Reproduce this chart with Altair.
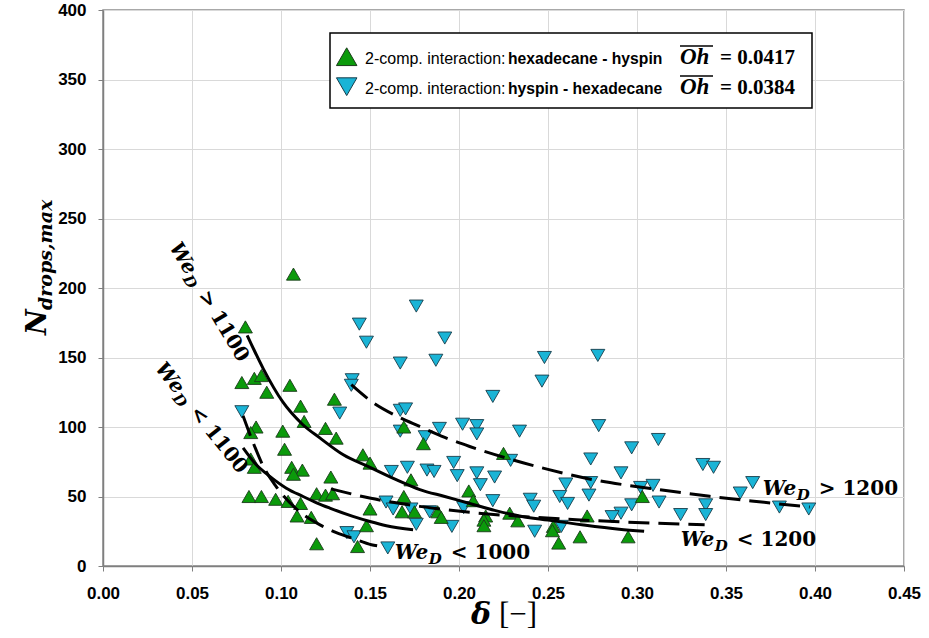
import altair as alt
import pandas as pd

# ---------------- data ----------------
# 2-comp. interaction: hexadecane - hyspin (green, triangle-up)
hh_delta = [0.107, 0.080, 0.078, 0.085, 0.089, 0.092, 0.105, 0.111, 0.113, 0.125,
            0.086, 0.083, 0.101, 0.102, 0.083, 0.085, 0.106, 0.112, 0.107, 0.128,
            0.082, 0.089, 0.097, 0.104, 0.111, 0.120, 0.125, 0.129, 0.109, 0.117,
            0.120, 0.130, 0.131, 0.146, 0.150, 0.169, 0.180, 0.173, 0.2055, 0.208,
            0.169, 0.150, 0.168, 0.175, 0.188, 0.190, 0.215, 0.214, 0.214, 0.148,
            0.143, 0.225, 0.2285, 0.233, 0.253, 0.2525, 0.256, 0.268, 0.272, 0.295,
            0.303]
hh_n = [210, 172, 132, 135, 137, 125, 130, 115, 104, 99,
        100, 96, 97, 84, 77, 71, 71, 69, 66, 64,
        50, 50, 48, 46.5, 45, 52, 51, 52, 36, 35,
        16, 120, 92, 80, 74, 100, 88, 62, 54, 47,
        50, 41, 39, 39, 39, 35, 36, 33, 29, 29,
        14, 81, 38, 32.5, 28.5, 25.4, 16.5, 21, 36, 21,
        50]

# 2-comp. interaction: hyspin - hexadecane (blue, triangle-down)
yh_delta = [0.078, 0.176, 0.144, 0.148, 0.192, 0.167, 0.187, 0.140, 0.1395, 0.133,
            0.219, 0.167, 0.170, 0.167, 0.189, 0.181, 0.202, 0.210, 0.210, 0.234,
            0.162, 0.171, 0.182, 0.186, 0.197, 0.199, 0.210, 0.212, 0.220, 0.219,
            0.159, 0.163, 0.173, 0.1835, 0.2026, 0.176, 0.196, 0.137, 0.141, 0.160,
            0.229, 0.248, 0.278, 0.2466, 0.2785, 0.297, 0.312, 0.274, 0.291, 0.260,
            0.274, 0.302, 0.309, 0.240, 0.242, 0.2566, 0.261, 0.273, 0.297, 0.3124,
            0.291, 0.286, 0.2425, 0.2575, 0.3245, 0.337, 0.3386, 0.3386, 0.343, 0.358,
            0.365, 0.380, 0.3965]
yh_n = [111, 187, 174, 161, 164, 146, 148, 134, 130, 110,
        122, 112, 113, 97, 99, 93, 102, 101, 95, 97,
        68, 71, 69, 68, 74.5, 65, 67, 58.5, 64, 47,
        46, 41, 41, 39, 42, 30, 28.5, 24, 21, 13,
        76, 150, 151.5, 133, 101, 85, 91, 77, 67, 59,
        60, 56.5, 58, 48, 43, 50, 45, 51, 44, 46,
        38, 35.5, 25, 28.5, 37, 73, 44, 37, 71, 52.5,
        60, 42.4, 41]

# trend curves
fit_solid_hi_x = [0.081, 0.090, 0.101, 0.112, 0.122, 0.135, 0.150, 0.165, 0.178, 0.192,
                  0.206, 0.220, 0.234, 0.250, 0.270, 0.290, 0.304]
fit_solid_hi_y = [166, 142, 118, 102, 92, 80, 71, 62, 55, 50,
                  45, 40, 36, 33, 29.5, 26.5, 25]
fit_solid_lo_x = [0.0787, 0.0860, 0.0937, 0.1030, 0.1124, 0.1200, 0.1274, 0.1404, 0.1500, 0.1592, 0.1742]
fit_solid_lo_y = [85, 73, 64.5, 56, 50, 45.5, 41.7, 35.7, 32, 29, 26.1]
fit_dash_hi_x = [0.1395, 0.1508, 0.1640, 0.1779, 0.1920, 0.2060, 0.2266, 0.2500, 0.2753, 0.2950,
                 0.3128, 0.3409, 0.3700, 0.3970]
fit_dash_hi_y = [130.4, 118.4, 108.5, 100.4, 92.5, 86, 77.7, 69.5, 62.1, 58,
                 54.9, 50.1, 46, 42.4]
fit_dash_mid_x = [0.128, 0.1498, 0.1779, 0.2060, 0.2341, 0.2659, 0.3071, 0.3380]
fit_dash_mid_y = [55.5, 48.9, 42.9, 38.6, 35.7, 33.3, 30.9, 29.6]
fit_dash_lo_x = [0.0787, 0.0852, 0.0899, 0.0974, 0.1087, 0.1227, 0.1311, 0.1410, 0.1508, 0.1540]
fit_dash_lo_y = [108, 86, 72, 57, 41, 29, 24, 19.5, 15.3, 14.5]

# curve labels: We_D <rel>
lab_rel = ["> 1100", "< 1100", "< 1000", "> 1200", "< 1200"]
lab_x = [0.0371, 0.0289, 0.1639, 0.3706, 0.3246]
lab_y = [229.4, 141.9, 5.25, 50.8, 14.6]
lab_angle = [59, 51.5, 0, 0, 0]

# legend
leg_plain = ["2-comp. interaction:", "2-comp. interaction:"]
leg_bold = ["hexadecane - hyspin", "hyspin - hexadecane"]
leg_oh = ["= 0.0417", "= 0.0384"]

x_ticks = [0.00, 0.05, 0.10, 0.15, 0.20, 0.25, 0.30, 0.35, 0.40, 0.45]
y_ticks = [0, 50, 100, 150, 200, 250, 300, 350, 400]

# ---------------- build tables ----------------
green = pd.DataFrame({"delta": hh_delta, "n": hh_n})
blue = pd.DataFrame({"delta": yh_delta, "n": yh_n})


def curve(name, xs, ys):
    return pd.DataFrame({"delta": xs, "n": ys, "curve": name})


solid = pd.concat([curve("hi", fit_solid_hi_x, fit_solid_hi_y),
                   curve("lo", fit_solid_lo_x, fit_solid_lo_y)])
dashed = pd.concat([curve("hi", fit_dash_hi_x, fit_dash_hi_y),
                    curve("mid", fit_dash_mid_x, fit_dash_mid_y),
                    curve("lo", fit_dash_lo_x, fit_dash_lo_y)])
labels = pd.DataFrame({"delta": lab_x, "n": lab_y, "rel": lab_rel, "angle": lab_angle})

X = alt.X("delta:Q",
          scale=alt.Scale(domain=[0, 0.45], nice=False, zero=False),
          axis=alt.Axis(values=x_ticks, format=".2f", title=None, grid=True,
                        gridColor="#d9d9d9", domainColor="#7f7f7f", domainWidth=1.5,
                        tickColor="#7f7f7f", tickSize=5, labelFlush=False,
                        labelFont="Liberation Sans", labelFontSize=17,
                        labelFontWeight="bold", labelColor="black", labelPadding=14))
Y = alt.Y("n:Q",
          scale=alt.Scale(domain=[0, 400], nice=False),
          axis=alt.Axis(values=y_ticks, title=None, grid=True,
                        gridColor="#d9d9d9", domainColor="#7f7f7f", domainWidth=1.5,
                        tickColor="#7f7f7f", tickSize=5, labelFlush=False,
                        labelFont="Liberation Sans", labelFontSize=17,
                        labelFontWeight="bold", labelColor="black", labelPadding=12))

blue_pts = alt.Chart(blue).mark_point(shape="triangle-down", filled=True, size=195,
                                      fill="#1ab4d6", stroke="#173c4a", strokeWidth=0.9,
                                      opacity=1).encode(x=X, y=Y)
green_pts = alt.Chart(green).mark_point(shape="triangle-up", filled=True, size=195,
                                        fill="#0b9a0b", stroke="#1b3b1b", strokeWidth=0.9,
                                        opacity=1).encode(x=X, y=Y)

solid_lines = alt.Chart(solid).mark_line(color="black", strokeWidth=3,
                                         interpolate="monotone").encode(
    x=X, y=Y, detail="curve:N", order="delta:Q")
dashed_lines = alt.Chart(dashed).mark_line(color="black", strokeWidth=3,
                                           strokeDash=[21, 9],
                                           interpolate="monotone").encode(
    x=X, y=Y, detail="curve:N", order="delta:Q")

lab_font = "DejaVu Serif"
we_txt = alt.Chart(labels).mark_text(text="We", font=lab_font, fontSize=20, fontWeight="bold",
                                     fontStyle="italic", align="left", baseline="alphabetic",
                                     color="black").encode(
    x=X, y=Y, angle=alt.Angle("angle:Q", scale=None))
d_txt = alt.Chart(labels).mark_text(text="D", font=lab_font, fontSize=15, fontWeight="bold",
                                    fontStyle="italic", align="left", baseline="alphabetic",
                                    dx=34, dy=5, color="black").encode(
    x=X, y=Y, angle=alt.Angle("angle:Q", scale=None))
rel_txt = alt.Chart(labels).mark_text(font=lab_font, fontSize=20, fontWeight="bold",
                                      align="left", baseline="alphabetic",
                                      dx=56, color="black").encode(
    x=X, y=Y, text="rel:N", angle=alt.Angle("angle:Q", scale=None))

# ---------------- axis titles (pixel positions relative to plot area) ----------------
one = pd.DataFrame({"k": [0]})
ytitle_n = alt.Chart(one).mark_text(text="N", font=lab_font, fontSize=28, fontWeight="bold",
                                    fontStyle="italic", align="left", baseline="alphabetic",
                                    angle=270, color="black").encode(
    x=alt.value(-57), y=alt.value(325))
ytitle_sub = alt.Chart(one).mark_text(text="drops,max", font=lab_font, fontSize=19,
                                      fontWeight="bold", fontStyle="italic", align="left",
                                      baseline="alphabetic", angle=270, dx=25, dy=6,
                                      color="black").encode(
    x=alt.value(-57), y=alt.value(325))
xtitle_d = alt.Chart(one).mark_text(text="δ", font=lab_font, fontSize=30, fontWeight="bold",
                                    fontStyle="italic", align="left", baseline="alphabetic",
                                    color="black").encode(
    x=alt.value(368), y=alt.value(614))
xtitle_b = alt.Chart(one).mark_text(text="[−]", font="Liberation Serif", fontSize=31,
                                    align="left", baseline="alphabetic",
                                    color="black").encode(
    x=alt.value(396), y=alt.value(614))

# ---------------- legend ----------------
leg = pd.DataFrame({"plain": leg_plain, "bold": leg_bold, "oh": leg_oh, "row": [0, 1]})
leg_box = alt.Chart(one).mark_rect(fill="white", stroke="black", strokeWidth=1.5).encode(
    x=alt.value(227), x2=alt.value(709), y=alt.value(23), y2=alt.value(98))
leg_up = alt.Chart(one).mark_point(shape="triangle-up", filled=True, size=420,
                                   fill="#0b9a0b", stroke="#1b3b1b", strokeWidth=1,
                                   opacity=1).encode(x=alt.value(243.7), y=alt.value(46.7))
leg_down = alt.Chart(one).mark_point(shape="triangle-down", filled=True, size=420,
                                     fill="#1ab4d6", stroke="#173c4a", strokeWidth=1,
                                     opacity=1).encode(x=alt.value(243.7), y=alt.value(76.7))
row_text_y = alt.Y("row:Q", scale=alt.Scale(domain=[0, 1], range=[53.5, 83.5]), axis=None)
row_oh_y = alt.Y("row:Q", scale=alt.Scale(domain=[0, 1], range=[55, 85]), axis=None)
leg_plain_t = alt.Chart(leg).mark_text(font="Liberation Sans", fontSize=16, align="left",
                                       baseline="alphabetic", color="black").encode(
    x=alt.value(262), y=row_text_y, text="plain:N")
leg_bold_t = alt.Chart(leg).mark_text(font="Liberation Sans", fontSize=15.7, fontWeight="bold",
                                      align="left", baseline="alphabetic", color="black").encode(
    x=alt.value(405), y=row_text_y, text="bold:N")
leg_oh_it = alt.Chart(leg).mark_text(text="Oh", font="Liberation Serif", fontSize=23,
                                     fontWeight="bold", fontStyle="italic", align="left",
                                     baseline="alphabetic", color="black").encode(
    x=alt.value(577), y=row_oh_y)
leg_oh_val = alt.Chart(leg).mark_text(font="Liberation Serif", fontSize=21, fontWeight="bold",
                                      align="left", baseline="alphabetic", color="black").encode(
    x=alt.value(617), y=row_oh_y, text="oh:N")
leg_bar1 = alt.Chart(one).mark_rule(color="black", strokeWidth=1.5).encode(
    x=alt.value(577), x2=alt.value(610), y=alt.value(36))
leg_bar2 = alt.Chart(one).mark_rule(color="black", strokeWidth=1.5).encode(
    x=alt.value(577), x2=alt.value(610), y=alt.value(66))

main = alt.layer(blue_pts, green_pts, solid_lines, dashed_lines, we_txt, d_txt, rel_txt)
legend = alt.layer(leg_box, leg_up, leg_down, leg_plain_t, leg_bold_t, leg_oh_it,
                   leg_oh_val, leg_bar1, leg_bar2)
titles = alt.layer(ytitle_n, ytitle_sub, xtitle_d, xtitle_b)

chart = alt.layer(main, titles, legend).resolve_scale(y="independent").properties(
    width=801, height=556,
    autosize=alt.AutoSizeParams(type="none"),
    padding={"left": 103, "top": 10, "right": 25, "bottom": 72},
    background="white",
).configure_view(stroke="#8c8c8c", strokeWidth=1.5)

chart.save("out.html", embed_options={"renderer": "svg", "actions": False})
